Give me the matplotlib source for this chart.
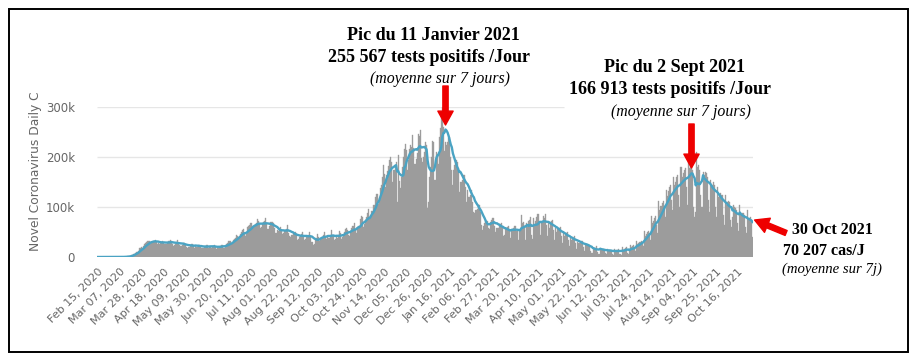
import matplotlib

matplotlib.use("Agg")
import matplotlib.pyplot as plt  # noqa: E402
from matplotlib.patches import Rectangle  # noqa: E402
import pandas as pd  # noqa: E402

# daily new cases (thousands), one row per week Sat..Fri, from 2020-02-15
daily_k = [
    0, 0, 0, 0, 0, 0, 0,
    0, 0, 0, 0, 0, 0, 0,
    0, 0, 0.02, 0.03, 0.05, 0.07, 0.1,
    0.12, 0.15, 0.2, 0.3, 0.4, 0.5, 0.8,
    0.9, 1.2, 1.6, 2.4, 3.5, 5, 6,
    7, 9, 10, 11, 13, 18, 19,
    20, 19, 22, 26, 28, 30, 32,
    33, 27, 30, 31, 32, 33, 34,
    30, 27, 28, 26, 29, 31, 33,
    30, 27, 26, 26, 29, 32, 35,
    33, 26, 23, 24, 27, 30, 34,
    29, 25, 22, 23, 25, 28, 28,
    25, 20, 19, 21, 22, 27, 26,
    24, 19, 22, 20, 21, 25, 24,
    22, 19, 18, 19, 20, 23, 24,
    24, 19, 20, 19, 21, 22, 25,
    21, 17, 18, 19, 21, 23, 25,
    25, 19, 18, 23, 26, 28, 32,
    32, 26, 26, 34, 36, 39, 45,
    43, 39, 40, 46, 50, 54, 56,
    48, 42, 47, 60, 62, 64, 68,
    63, 58, 60, 66, 68, 76, 72,
    67, 58, 60, 66, 71, 73, 78,
    66, 56, 57, 62, 70, 71, 69,
    58, 48, 48, 55, 53, 56, 60,
    55, 46, 48, 52, 54, 56, 64,
    49, 42, 40, 45, 49, 46, 50,
    46, 34, 37, 40, 45, 46, 50,
    43, 34, 37, 40, 42, 45, 51,
    40, 31, 25, 27, 34, 38, 47,
    41, 33, 35, 38, 40, 44, 51,
    42, 37, 42, 39, 39, 45, 55,
    44, 35, 36, 43, 39, 45, 53,
    49, 36, 41, 43, 50, 57, 58,
    54, 44, 42, 52, 59, 63, 69,
    55, 48, 58, 62, 62, 76, 83,
    80, 60, 66, 74, 80, 88, 97,
    81, 84, 93, 92, 104, 120, 127,
    126, 106, 119, 139, 144, 161, 184,
    166, 140, 165, 172, 182, 195, 200,
    190, 150, 175, 185, 190, 110, 205,
    152, 139, 161, 180, 200, 217, 227,
    214, 175, 194, 216, 225, 221, 245,
    218, 187, 196, 209, 247, 242, 254,
    198, 190, 200, 210, 230, 225, 98,
    110, 160, 180, 200, 233, 231, 154,
    211, 207, 186, 240, 258, 284, 300,
    260, 213, 230, 224, 230, 238, 240,
    200, 175, 145, 175, 185, 195, 190,
    170, 130, 150, 150, 155, 165, 165,
    140, 110, 135, 120, 120, 125, 135,
    110, 90, 88, 95, 96, 105, 105,
    90, 65, 55, 62, 68, 72, 70,
    72, 58, 57, 70, 74, 78, 79,
    63, 50, 58, 58, 67, 66, 68,
    60, 42, 44, 57, 58, 60, 62,
    52, 38, 54, 56, 58, 62, 62,
    52, 35, 52, 53, 85, 68, 70,
    62, 35, 68, 60, 72, 75, 80,
    45, 36, 78, 64, 72, 80, 86,
    69, 44, 72, 68, 82, 78, 86,
    64, 43, 70, 58, 70, 72, 74,
    55, 35, 58, 51, 57, 59, 61,
    42, 28, 50, 42, 47, 48, 50,
    34, 22, 38, 35, 38, 38, 43,
    28, 17, 31, 28, 30, 32, 33,
    20, 13, 26, 24, 25, 25, 24,
    12, 9, 8, 19, 18, 19, 22,
    11, 7, 19, 15, 15, 16, 17,
    9, 6, 17, 13, 14, 15, 14,
    6, 5, 17, 13, 14, 14, 16,
    6, 4, 21, 14, 16, 19, 20,
    9, 6, 12, 25, 21, 22, 24,
    18, 13, 33, 27, 29, 31, 33,
    30, 22, 52, 43, 46, 50, 52,
    48, 35, 82, 68, 73, 78, 82,
    65, 48, 113, 95, 102, 108, 112,
    100, 80, 135, 123, 132, 140, 145,
    115, 95, 160, 145, 150, 160, 165,
    125, 100, 180, 160, 168, 175, 178,
    140, 105, 190, 178, 185, 195, 175,
    100, 80, 90, 210, 180, 185, 175,
    125, 100, 170, 165, 170, 168, 160,
    115, 90, 155, 140, 145, 150, 145,
    100, 80, 140, 120, 125, 128, 125,
    85, 65, 125, 105, 110, 112, 110,
    75, 60, 80, 105, 100, 98, 95,
    68, 52, 105, 85, 85, 88, 85,
    60, 48, 95, 75, 78, 80, 75,
    40,
]
start_date = "2020-02-15"
tick_labels_start = "2020-02-15"
y_ticks = [0, 100000, 200000, 300000]
y_tick_labels = ["0", "100k", "200k", "300k"]

dates = pd.date_range(start_date, periods=len(daily_k), freq="D")
cases = pd.Series(daily_k, index=dates) * 1000
avg7 = cases.rolling(7, min_periods=1).mean()

W, H = 918, 362


def fx(x):
    return x / W


def fy(y):
    return 1 - y / H


fig = plt.figure(figsize=(W / 100, H / 100), dpi=100)
ax = fig.add_axes([fx(97), fy(257), 656 / W, 150 / H])

xmin = dates[0] - pd.Timedelta(hours=12)
xmax = dates[-1] + pd.Timedelta(hours=12)

# grid (the top line is hidden behind the second label box)
ax.hlines([100000, 200000], xmin, xmax, color="#e6e6e6", lw=1, zorder=0)
ax.hlines(300000, xmin, pd.Timestamp("2021-05-04"), color="#e6e6e6", lw=1, zorder=0)
ax.axhline(0, color="#ccd6eb", lw=1, zorder=1)

ax.bar(dates, cases.values, width=1.0, color="#9c9c9c", edgecolor="#9c9c9c",
       linewidth=0.25, zorder=2)
ax.plot(dates, avg7.values, color="#4aa3c3", lw=1.7, zorder=3)

ax.set_xlim(xmin, xmax)
ax.set_ylim(0, 300000)
for s in ax.spines.values():
    s.set_visible(False)

ax.set_yticks(y_ticks)
ax.set_yticklabels(y_tick_labels)
ticks = pd.date_range(tick_labels_start, dates[-1], freq="21D")
ax.set_xticks(ticks)
ax.set_xticklabels([t.strftime("%b %d, %Y") for t in ticks])
ax.tick_params(axis="y", length=0, pad=16, labelsize=8.5, labelcolor="#666666")
ax.tick_params(axis="x", length=0, pad=7, labelsize=8, labelcolor="#666666")
for lab in ax.get_xticklabels():
    lab.set_rotation(45)
    lab.set_ha("right")
    lab.set_rotation_mode("anchor")

fig.text(fx(36), fy(251), "Novel Coronavirus Daily C", rotation=90, ha="center",
         va="bottom", fontsize=8.8, color="#666666")

bold = dict(family="Liberation Serif", weight="bold", ha="center", va="center",
            color="black")
ital = dict(family="Liberation Serif", style="italic", ha="center", va="center",
            color="black")

fig.text(fx(433), fy(35), "Pic du 11 Janvier 2021", fontsize=13, **bold)
fig.text(fx(429), fy(57), "255 567 tests positifs /Jour", fontsize=13, **bold)
fig.text(fx(440), fy(79), "(moyenne sur 7 jours)", fontsize=11.4, **ital)

fig.text(fx(674), fy(68), "Pic du 2 Sept 2021", fontsize=13, **bold)
fig.text(fx(670), fy(90), "166 913 tests positifs /Jour", fontsize=13, **bold)
fig.text(fx(681), fy(112), "(moyenne sur 7 jours)", fontsize=11.4, **ital)

fig.text(fx(832), fy(230), "30 Oct 2021", fontsize=11.5, **bold)
fig.text(fx(824), fy(251), "70 207 cas/J", fontsize=11.5, **bold)
fig.text(fx(832), fy(269), "(moyenne sur 7j)", fontsize=10.6, **ital)

arrow = dict(arrowstyle="simple,head_length=1.0,head_width=1.1,tail_width=0.38",
             color="#ee0000", mutation_scale=10, shrinkA=0, shrinkB=0)
ax.annotate("", xy=(pd.Timestamp("2021-01-11"), 264000),
            xytext=(pd.Timestamp("2021-01-11"), 342000),
            arrowprops=arrow, annotation_clip=False)
ax.annotate("", xy=(pd.Timestamp("2021-09-02"), 178000),
            xytext=(pd.Timestamp("2021-09-02"), 266000),
            arrowprops=arrow, annotation_clip=False)
ax.annotate("", xy=(pd.Timestamp("2021-11-01"), 74000),
            xytext=(pd.Timestamp("2021-12-01"), 48000),
            arrowprops=arrow, annotation_clip=False)

fig.add_artist(Rectangle((fx(9), fy(352)), (908 - 9) / W, (352 - 9) / H,
                         transform=fig.transFigure, fill=False, ec="black", lw=1.4))

fig.savefig("out.png", dpi=100)
